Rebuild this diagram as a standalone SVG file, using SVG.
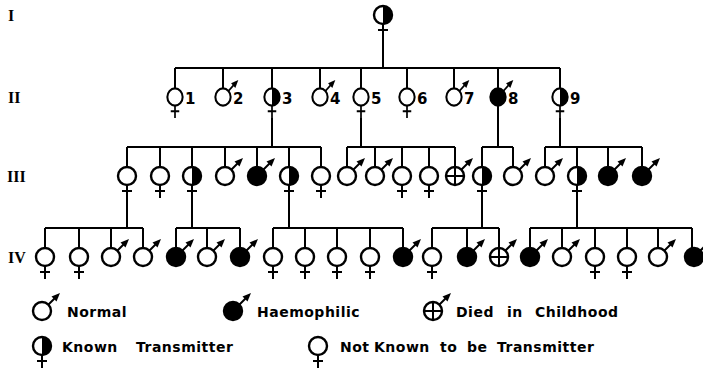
<svg xmlns="http://www.w3.org/2000/svg" xmlns:xlink="http://www.w3.org/1999/xlink" width="703" height="371" viewBox="0 0 703 371">
<style>
.ln{stroke:#000;stroke-width:2;fill:none}
.c{fill:#fff;stroke:#000;stroke-width:2.4}
.k{fill:#000;stroke:#000;stroke-width:2.4}
.num{font-family:"DejaVu Sans",sans-serif;font-weight:bold;font-size:15px}
.rom{font-family:"Liberation Serif",serif;font-weight:bold;font-size:16px}
.lg{font-family:"DejaVu Sans",sans-serif;font-weight:bold;font-size:14px;letter-spacing:0.5px}
</style>
<defs>
<g id="cross"><path class="ln" d="M0,9 V22 M-5,15 H5"/></g>
<g id="arrow"><path class="ln" d="M6,-6 L12.5,-12.5"/><polygon points="18,-18 9.5,-14.5 14.5,-9.5" fill="#000"/></g>
<g id="F"><circle r="9" class="c"/><use xlink:href="#cross" href="#cross"/></g>
<g id="T"><circle r="9" class="c"/><path d="M0,-9 A9,9 0 0 1 0,9 Z" fill="#000"/><use xlink:href="#cross" href="#cross"/></g>
<g id="M"><circle r="9" class="c"/><use xlink:href="#arrow" href="#arrow"/></g>
<g id="H"><circle r="9" class="k"/><use xlink:href="#arrow" href="#arrow"/></g>
<g id="D"><circle r="9" class="c"/><path class="ln" d="M-9,0 H9 M0,-9 V9"/><use xlink:href="#arrow" href="#arrow"/></g>
</defs>

<g id="generation-labels">
<text class="rom" x="8" y="21">I</text>
<text class="rom" x="8" y="103">II</text>
<text class="rom" x="7" y="182">III</text>
<text class="rom" x="8" y="263">IV</text>
</g>

<g id="connectors">
<path class="ln" d="M383,37 V68 M175,68 H560 M175,68 V89 M223,68 V89 M272,68 V89 M320,68 V89 M361,68 V89 M407,68 V89 M454,68 V89 M498,68 V89 M560,68 V89"/>
<path class="ln" d="M272,118 V147 M127,147 H321 M127,147 V167 M160,147 V167 M192,147 V167 M225,147 V167 M257,147 V167 M289,147 V167 M321,147 V167"/>
<path class="ln" d="M361,118 V147 M347,147 H455 M347,147 V167 M375,147 V167 M402,147 V167 M429,147 V167 M455,147 V167"/>
<path class="ln" d="M498,105 V147 M482,147 H513 M482,147 V167 M513,147 V167"/>
<path class="ln" d="M560,118 V147 M545,147 H642 M545,147 V167 M577,147 V167 M608,147 V167 M642,147 V167"/>
<path class="ln" d="M127,198 V228 M45,228 H143 M45,228 V248 M79,228 V248 M111,228 V248 M143,228 V248"/>
<path class="ln" d="M192,198 V228 M176,228 H240 M176,228 V248 M207,228 V248 M240,228 V248"/>
<path class="ln" d="M289,198 V228 M273,228 H403 M273,228 V248 M305,228 V248 M337,228 V248 M370,228 V248 M403,228 V248"/>
<path class="ln" d="M482,198 V228 M432,228 H499 M432,228 V248 M467,228 V248 M499,228 V248"/>
<path class="ln" d="M577,198 V228 M530,228 H692 M530,228 V248 M562,228 V248 M595,228 V248 M627,228 V248 M658,228 V248 M692,228 V248"/>
</g>

<g id="I-1"><use xlink:href="#T" href="#T" x="383" y="15"/></g>

<g id="II-1"><use xlink:href="#F" href="#F" transform="translate(175,97) scale(0.85,0.95)"/><text class="num" x="185" y="104">1</text></g>
<g id="II-2"><use xlink:href="#M" href="#M" transform="translate(223,97) scale(0.85,0.95)"/><text class="num" x="233" y="104">2</text></g>
<g id="II-3"><use xlink:href="#T" href="#T" transform="translate(272,97) scale(0.85,0.95)"/><text class="num" x="282" y="104">3</text></g>
<g id="II-4"><use xlink:href="#M" href="#M" transform="translate(320,97) scale(0.85,0.95)"/><text class="num" x="330" y="104">4</text></g>
<g id="II-5"><use xlink:href="#F" href="#F" transform="translate(361,97) scale(0.85,0.95)"/><text class="num" x="371" y="104">5</text></g>
<g id="II-6"><use xlink:href="#F" href="#F" transform="translate(407,97) scale(0.85,0.95)"/><text class="num" x="417" y="104">6</text></g>
<g id="II-7"><use xlink:href="#M" href="#M" transform="translate(454,97) scale(0.85,0.95)"/><text class="num" x="464" y="104">7</text></g>
<g id="II-8"><use xlink:href="#H" href="#H" transform="translate(498,97) scale(0.85,0.95)"/><text class="num" x="508" y="104">8</text></g>
<g id="II-9"><use xlink:href="#T" href="#T" transform="translate(560,97) scale(0.85,0.95)"/><text class="num" x="570" y="104">9</text></g>

<g id="III-1"><use xlink:href="#F" href="#F" x="127" y="176"/></g>
<g id="III-2"><use xlink:href="#F" href="#F" x="160" y="176"/></g>
<g id="III-3"><use xlink:href="#T" href="#T" x="192" y="176"/></g>
<g id="III-4"><use xlink:href="#M" href="#M" x="225" y="176"/></g>
<g id="III-5"><use xlink:href="#H" href="#H" x="257" y="176"/></g>
<g id="III-6"><use xlink:href="#T" href="#T" x="289" y="176"/></g>
<g id="III-7"><use xlink:href="#F" href="#F" x="321" y="176"/></g>
<g id="III-8"><use xlink:href="#M" href="#M" x="347" y="176"/></g>
<g id="III-9"><use xlink:href="#M" href="#M" x="375" y="176"/></g>
<g id="III-10"><use xlink:href="#F" href="#F" x="402" y="176"/></g>
<g id="III-11"><use xlink:href="#F" href="#F" x="429" y="176"/></g>
<g id="III-12"><use xlink:href="#D" href="#D" x="455" y="176"/></g>
<g id="III-13"><use xlink:href="#T" href="#T" x="482" y="176"/></g>
<g id="III-14"><use xlink:href="#M" href="#M" x="513" y="176"/></g>
<g id="III-15"><use xlink:href="#M" href="#M" x="545" y="176"/></g>
<g id="III-16"><use xlink:href="#T" href="#T" x="577" y="176"/></g>
<g id="III-17"><use xlink:href="#H" href="#H" x="608" y="176"/></g>
<g id="III-18"><use xlink:href="#H" href="#H" x="642" y="176"/></g>

<g id="IV-1"><use xlink:href="#F" href="#F" x="45" y="257"/></g>
<g id="IV-2"><use xlink:href="#F" href="#F" x="79" y="257"/></g>
<g id="IV-3"><use xlink:href="#M" href="#M" x="111" y="257"/></g>
<g id="IV-4"><use xlink:href="#M" href="#M" x="143" y="257"/></g>
<g id="IV-5"><use xlink:href="#H" href="#H" x="176" y="257"/></g>
<g id="IV-6"><use xlink:href="#M" href="#M" x="207" y="257"/></g>
<g id="IV-7"><use xlink:href="#H" href="#H" x="240" y="257"/></g>
<g id="IV-8"><use xlink:href="#F" href="#F" x="273" y="257"/></g>
<g id="IV-9"><use xlink:href="#F" href="#F" x="305" y="257"/></g>
<g id="IV-10"><use xlink:href="#F" href="#F" x="337" y="257"/></g>
<g id="IV-11"><use xlink:href="#F" href="#F" x="370" y="257"/></g>
<g id="IV-12"><use xlink:href="#H" href="#H" x="403" y="257"/></g>
<g id="IV-13"><use xlink:href="#F" href="#F" x="432" y="257"/></g>
<g id="IV-14"><use xlink:href="#H" href="#H" x="467" y="257"/></g>
<g id="IV-15"><use xlink:href="#D" href="#D" x="499" y="257"/></g>
<g id="IV-16"><use xlink:href="#H" href="#H" x="530" y="257"/></g>
<g id="IV-17"><use xlink:href="#M" href="#M" x="562" y="257"/></g>
<g id="IV-18"><use xlink:href="#F" href="#F" x="595" y="257"/></g>
<g id="IV-19"><use xlink:href="#F" href="#F" x="627" y="257"/></g>
<g id="IV-20"><use xlink:href="#M" href="#M" x="658" y="257"/></g>
<g id="IV-21"><use xlink:href="#H" href="#H" x="694" y="257"/></g>

<g id="legend">
<g id="legend-normal"><use xlink:href="#M" href="#M" x="42" y="311"/><text class="lg" x="67" y="317">Normal</text></g>
<g id="legend-haemophilic"><use xlink:href="#H" href="#H" x="233" y="311"/><text class="lg" x="257" y="317">Haemophilic</text></g>
<g id="legend-died"><use xlink:href="#D" href="#D" x="433" y="311"/><text class="lg" x="456" y="317"><tspan>Died </tspan><tspan x="507">in </tspan><tspan x="535">Childhood</tspan></text></g>
<g id="legend-known"><use xlink:href="#T" href="#T" x="42" y="346"/><text class="lg" x="62" y="352"><tspan>Known </tspan><tspan x="136">Transmitter</tspan></text></g>
<g id="legend-notknown"><use xlink:href="#F" href="#F" x="318" y="346"/><text class="lg" x="340" y="352"><tspan>Not </tspan><tspan x="374">Known </tspan><tspan x="440">to </tspan><tspan x="467">be </tspan><tspan x="497">Transmitter</tspan></text></g>
</g>
</svg>
